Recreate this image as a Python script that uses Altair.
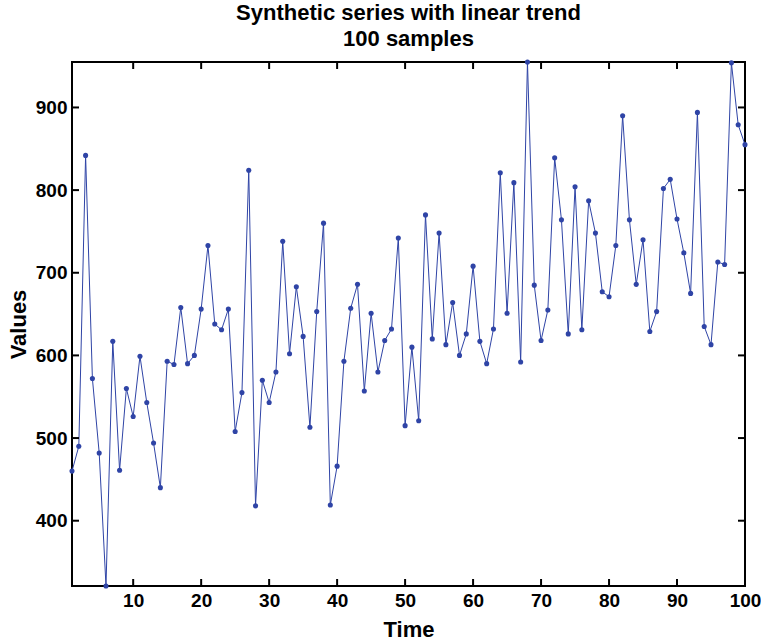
import altair as alt
import pandas as pd

time = list(range(1, 101))
values = [
    460, 490, 842, 572, 482, 321, 617, 461, 560, 526,
    599, 543, 494, 440, 593, 589, 658, 590, 600, 656,
    733, 638, 631, 656, 508, 555, 824, 418, 570, 543,
    580, 738, 602, 683, 623, 513, 653, 760, 419, 466,
    593, 657, 686, 557, 651, 580, 618, 632, 742, 515,
    610, 521, 770, 620, 748, 613, 664, 600, 626, 708,
    617, 590, 632, 821, 651, 809, 592, 955, 685, 618,
    655, 839, 764, 626, 804, 631, 787, 748, 677, 671,
    733, 890, 764, 686, 740, 629, 653, 802, 813, 765,
    724, 675, 894, 635, 613, 713, 710, 954, 879, 855,
]
x_ticks = [10, 20, 30, 40, 50, 60, 70, 80, 90, 100]
y_ticks = [400, 500, 600, 700, 800, 900]

W, H = 673, 524
FONT = "Liberation Sans"
BLUE = "#2f44a6"

df = pd.DataFrame({"Time": time, "Values": values})
dx = pd.DataFrame({"t": x_ticks})
dy = pd.DataFrame({"v": y_ticks})

xs = alt.Scale(domain=[1, 100], nice=False, zero=False)
ys = alt.Scale(domain=[min(values), max(values)], nice=False, zero=False)

axis_common = dict(ticks=False, domain=False, grid=False,
                   labelFont=FONT, labelFontSize=19, labelFontWeight="bold", labelColor="black",
                   labelPadding=5, titleFont=FONT, titleFontSize=22, titleFontWeight="bold",
                   titleColor="black", labelFlush=False)

base = alt.Chart(df)
line = base.mark_line(color=BLUE, strokeWidth=1, clip=False).encode(
    x=alt.X("Time:Q", scale=xs,
            axis=alt.Axis(values=x_ticks, title="Time", titlePadding=9, **axis_common)),
    y=alt.Y("Values:Q", scale=ys,
            axis=alt.Axis(values=y_ticks, title="Values", titlePadding=5, **axis_common)),
)
pts = base.mark_circle(color=BLUE, size=26, opacity=1, clip=False).encode(
    x=alt.X("Time:Q", scale=xs), y=alt.Y("Values:Q", scale=ys)
)

tick_len = 7
bt = alt.Chart(dx).mark_rule(color="black", strokeWidth=2).encode(
    x=alt.X("t:Q", scale=xs), y=alt.value(H), y2=alt.value(H - tick_len))
tt = alt.Chart(dx).mark_rule(color="black", strokeWidth=2).encode(
    x=alt.X("t:Q", scale=xs), y=alt.value(0), y2=alt.value(tick_len))
lt = alt.Chart(dy).mark_rule(color="black", strokeWidth=2).encode(
    y=alt.Y("v:Q", scale=ys), x=alt.value(0), x2=alt.value(tick_len))
rt = alt.Chart(dy).mark_rule(color="black", strokeWidth=2).encode(
    y=alt.Y("v:Q", scale=ys), x=alt.value(W - tick_len), x2=alt.value(W))

chart = alt.layer(line, pts, bt, tt, lt, rt).properties(
    width=W, height=H,
    background="white",
    autosize=alt.AutoSizeParams(type="none"),
    padding={"left": 72, "top": 62, "right": 16, "bottom": 54},
    title=alt.TitleParams(["Synthetic series with linear trend", "100 samples"],
                          font=FONT, fontSize=22, fontWeight="bold", color="black",
                          anchor="middle", offset=8, lineHeight=26),
).configure_view(stroke="black", strokeWidth=2)

chart.save("out.html", embed_options={"renderer": "svg", "actions": False})
